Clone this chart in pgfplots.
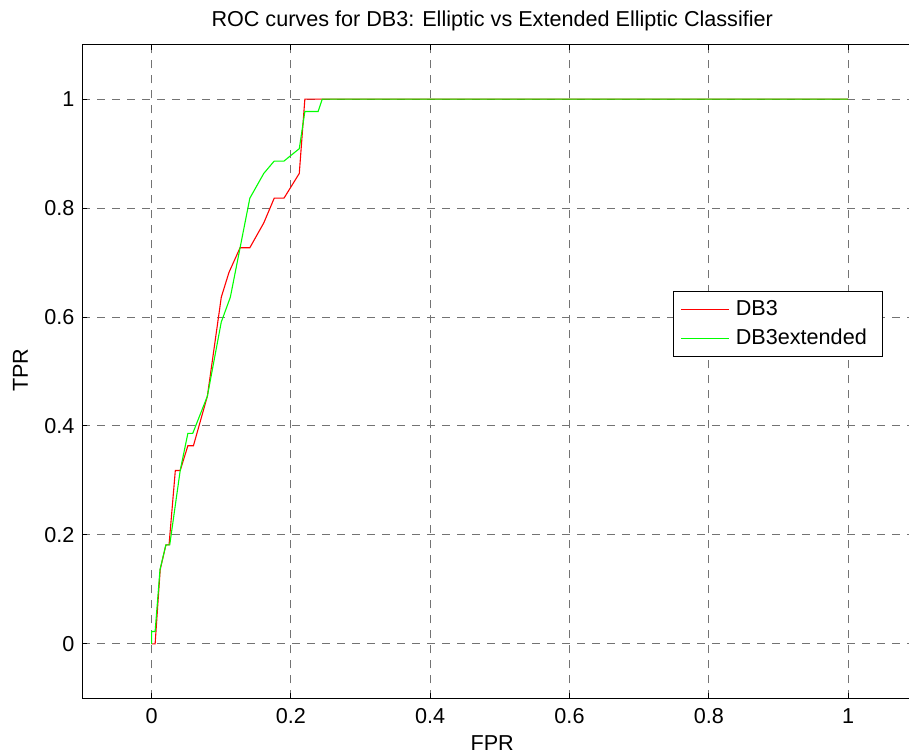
\documentclass[border=0pt]{standalone}
\usepackage{pgfplots}
\pgfplotsset{compat=1.18}
\usepackage{fontspec}
\setmainfont{Liberation Sans}
\usetikzlibrary{calc}

\pgfplotstableread{
x y
0 0
0.005 0
0.0123 0.13636
0.0205 0.18182
0.025 0.18182
0.034 0.31818
0.041 0.31818
0.052 0.36364
0.060 0.36364
0.080 0.45455
0.100 0.63636
0.111 0.68182
0.127 0.72727
0.141 0.72727
0.161 0.77273
0.176 0.81818
0.190 0.81818
0.212 0.86364
0.220 1
1 1
}\dbthree

\pgfplotstableread{
x y
0 0
0 0.02273
0.005 0.02273
0.012 0.13636
0.0205 0.18182
0.026 0.18182
0.041 0.31818
0.052 0.38636
0.059 0.38636
0.080 0.45455
0.100 0.59091
0.113 0.63636
0.127 0.72727
0.141 0.81818
0.161 0.86364
0.176 0.88636
0.190 0.88636
0.212 0.90909
0.220 0.97727
0.239 0.97727
0.245 1
1 1
}\dbthreeext

\definecolor{mred}{RGB}{255,0,0}
\definecolor{mgreen}{RGB}{0,255,0}

\begin{document}
\fontsize{10.8bp}{13bp}\selectfont
\begin{tikzpicture}
\begin{axis}[name=ax,
  scale only axis, width=413.5bp, height=326.8bp,
  xmin=-0.1, xmax=1.0875, ymin=-0.1, ymax=1.1,
  axis y line*=left,
  xtick={0,0.2,0.4,0.6,0.8,1}, ytick={0,0.2,0.4,0.6,0.8,1},
  tick align=inside, major tick length=2.5bp,
  grid=major,
  major grid style={black!55, dash pattern=on 4bp off 3.5bp, line width=0.5bp},
  axis line style={line width=0.5bp},
  every tick/.style={black, line width=0.5bp},
  /pgf/number format/assume math mode=true,
  ticklabel style={font=\fontsize{10.8bp}{13bp}\selectfont},
  xticklabel style={yshift=-1.5bp},
  every axis title shift=0pt,
  title={ROC curves for DB3: Elliptic vs Extended Elliptic Classifier},
  title style={at={(0.496,1.0286)}, anchor=base, inner sep=0pt},
  xlabel={FPR},
  xlabel style={at={(0.496,-0.0806)}, anchor=base, inner sep=0pt},
  ylabel={TPR},
  ylabel style={at={(-0.0655,0.502)}, anchor=base, inner sep=0pt},
  legend cell align=left,
  legend style={at={(0.715,0.623)}, anchor=north west, draw=black,
    line width=0.5bp, inner xsep=3.5bp, inner ysep=2.4bp, row sep=1bp,
    font=\fontsize{10.8bp}{13bp}\selectfont},
]
\addlegendimage{legend image code/.code={\draw[mred, line width=0.6bp] (0bp,0bp) -- (24bp,0bp); \path (25bp,0bp);}}
\addlegendentry{DB3}
\addlegendimage{legend image code/.code={\draw[mgreen, line width=0.6bp] (0bp,0bp) -- (24bp,0bp); \path (25bp,0bp);}}
\addlegendentry{DB3extended\kern2.5bp}
\addplot[mred, line width=0.55bp, forget plot] table[x=x,y=y] {\dbthree};
\addplot[mgreen, line width=0.55bp, forget plot] table[x=x,y=y] {\dbthreeext};
\end{axis}
\pgfresetboundingbox
\path[use as bounding box] ($(ax.south west)+(-41bp,-28.35bp)$) rectangle ($(ax.north east)+(0bp,22.35bp)$);
\end{tikzpicture}
\end{document}
